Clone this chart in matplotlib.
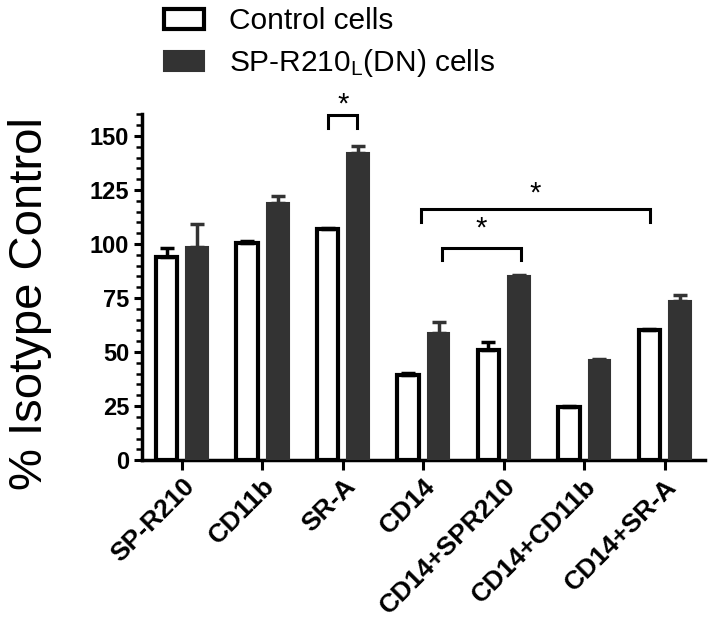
import matplotlib
matplotlib.use('Agg')
import matplotlib.pyplot as plt
import numpy as np
from matplotlib import rcParams
from matplotlib.ticker import MultipleLocator

rcParams['font.family'] = ['Liberation Sans', 'DejaVu Sans']
rcParams['mathtext.default'] = 'regular'

# data
categories = ['SP-R210', 'CD11b', 'SR-A', 'CD14', 'CD14+SPR210', 'CD14+CD11b', 'CD14+SR-A']
control = [94.1, 100.6, 106.8, 39.4, 50.9, 24.7, 60.2]
control_err = [4.0, 0.6, 0.4, 1.0, 3.9, 0.3, 0.5]
dn = [98.8, 118.8, 142.0, 58.6, 85.2, 46.3, 73.8]
dn_err = [10.5, 3.6, 3.5, 5.4, 0.4, 0.3, 2.6]

# significance brackets: (x left, x right, height, leg drop, star offset)
brackets = [(1.82, 2.18, 159.7, 6.0, 5.0),
            (2.97, 5.82, 116.0, 5.7, 7.5),
            (3.23, 4.21, 98.3, 5.7, 9.0)]

fig = plt.figure(figsize=(7.12, 6.21), dpi=100)
ax = fig.add_axes([0.199, 0.259, 0.791, 0.557])

x = np.arange(len(categories))
w = 0.27
off = 0.19
dark = '#333333'

b1 = ax.bar(x - off, control, w, color='white', edgecolor='black', linewidth=3,
            yerr=[np.zeros(len(x)), control_err], ecolor='black',
            error_kw=dict(elinewidth=2.5, capsize=5, capthick=2.5), zorder=3,
            label='Control cells')
b2 = ax.bar(x + off, dn, w, color=dark, edgecolor=dark, linewidth=1.5,
            yerr=[np.zeros(len(x)), dn_err], ecolor=dark,
            error_kw=dict(elinewidth=2.5, capsize=5, capthick=2.5), zorder=3,
            label=r'SP-R210$_L$(DN) cells')

for xl, xr, h, d, so in brackets:
    ax.plot([xl, xl, xr, xr], [h - d, h, h, h - d], color='black', lw=2.2,
            clip_on=False, solid_joinstyle='miter')
    ax.text((xl + xr) / 2, h + so, '*', ha='center', va='center', fontsize=21,
            clip_on=False)

ax.set_xlim(-0.5, 6.5)
ax.set_ylim(0, 160)
ax.set_yticks([0, 25, 50, 75, 100, 125, 150])
ax.yaxis.set_minor_locator(MultipleLocator(5))
ax.set_xticks(x)
ax.set_xticklabels(categories, rotation=45, ha='right', rotation_mode='anchor',
                   fontsize=19, fontweight='bold')
for lab in ax.get_yticklabels():
    lab.set_fontweight('bold')
ax.tick_params(axis='y', labelsize=17, width=2.2, length=6, direction='out', pad=3)
ax.tick_params(axis='y', which='minor', width=1.8, length=4)
ax.tick_params(axis='x', width=2.2, length=7, direction='out', pad=3)

for s in ['top', 'right']:
    ax.spines[s].set_visible(False)
for s in ['left', 'bottom']:
    ax.spines[s].set_linewidth(2.5)

ax.set_ylabel('% Isotype Control', fontsize=34, labelpad=27, y=0.454)

fig.legend(handles=[b1, b2], loc='upper left', bbox_to_anchor=(0.209, 1.012),
           frameon=False, fontsize=21.5, handlelength=1.35, handleheight=0.65,
           handletextpad=0.85, labelspacing=0.4, borderpad=0.0)

fig.savefig('out.png', dpi=100)
